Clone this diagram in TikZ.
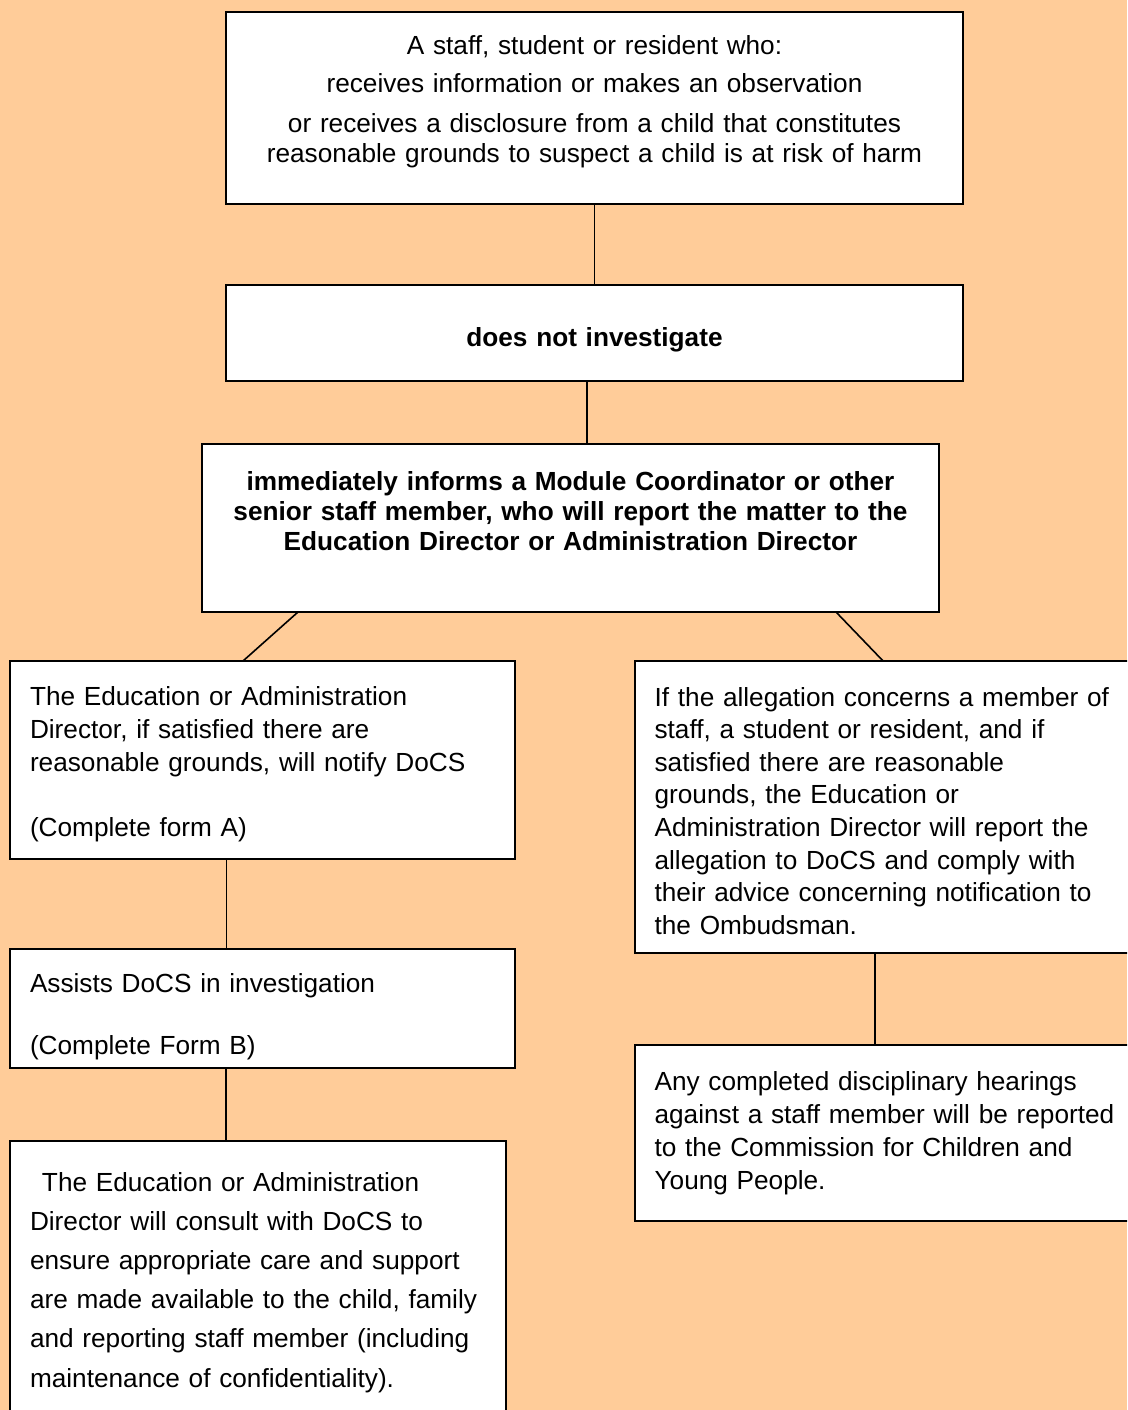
\documentclass[tikz,border=0pt]{standalone}
\usepackage{fontspec}
\setmainfont{Liberation Sans}
\definecolor{peach}{HTML}{FFCC99}

\begin{document}
\begin{tikzpicture}[x=1pt, y=-1pt,
    box/.style={draw=black, line width=2pt, fill=white, anchor=north west,
        inner xsep=20pt, inner ysep=0pt, outer sep=0pt},
    link/.style={draw=black, line width=1.6pt}]
    \clip (0,0) rectangle (1127,1410);
    \fill[peach] (0,0) rectangle (1127,1410);
    % Top row
    \node[box, align=center, text width=697pt, text height=43pt, text depth=149pt,
        font=\fontsize{26.2}{30}\selectfont] (Report) at (226,12)
        {A staff, student or resident who:\\[8pt]
         receives information or makes an observation\\[10pt]
         or receives a disclosure from a child that constitutes\\
         reasonable grounds to suspect a child is at risk of harm};
    \node[box, align=center, text width=697pt, text height=61pt, text depth=35pt,
        font=\fontsize{26.2}{30}\selectfont\bfseries] (NoInvestigate) at (226,285)
        {does not investigate};
    \node[box, align=center, text width=697pt, text height=46pt, text depth=122pt,
        font=\fontsize{26.2}{30}\selectfont\bfseries] (Inform) at (202,444)
        {immediately informs a Module Coordinator or other\\
         senior staff member, who will report the matter to the\\
         Education Director or Administration Director};
    % Left branch
    \node[box, align=left, text width=465pt, text height=44pt, text depth=154pt,
        font=\fontsize{26.2}{33}\selectfont] (Notify) at (10,661)
        {The Education or Administration\\
         Director, if satisfied there are\\
         reasonable grounds, will notify DoCS\\[32pt]
         (Complete form A)};
    \node[box, align=left, text width=465pt, text height=43pt, text depth=76pt,
        font=\fontsize{26.2}{32}\selectfont] (Assist) at (10,949)
        {Assists DoCS in investigation\\[30pt]
         (Complete Form B)};
    \node[box, align=left, text width=456pt, text height=50pt, text depth=260pt,
        font=\fontsize{26.2}{39.2}\selectfont] (Support) at (10,1141)
        {\hspace*{12pt}The Education or Administration\\
         Director will consult with DoCS to\\
         ensure appropriate care and support\\
         are made available to the child, family\\
         and reporting staff member (including\\
         maintenance of confidentiality).};
    % Right branch
    \node[box, align=left, text width=470pt, text height=45pt, text depth=247pt,
        font=\fontsize{26.2}{32.6}\selectfont] (Concern) at (634.6,661)
        {If the allegation concerns a member of\\
         staff, a student or resident, and if\\
         satisfied there are reasonable\\
         grounds, the Education or\\
         Administration Director will report the\\
         allegation to DoCS and comply with\\
         their advice concerning notification to\\
         the Ombudsman.};
    \node[box, align=left, text width=470pt, text height=45pt, text depth=131pt,
        font=\fontsize{26.2}{33.3}\selectfont] (Hearing) at (634.6,1045)
        {Any completed disciplinary hearings\\
         against a staff member will be reported\\
         to the Commission for Children and\\
         Young People.};
    % Connectors
    \draw[link] (Report.south) -- (NoInvestigate.north);
    \coordinate (DownInform) at ([xshift=-7.5pt]NoInvestigate.south);
    \draw[link] (DownInform) -- (DownInform |- Inform.north);
    \draw[link] ([xshift=96pt]Inform.south west) -- ([xshift=233pt]Notify.north west);
    \draw[link] ([xshift=-103pt]Inform.south east) -- ([xshift=248.5pt]Concern.north west);
    \coordinate (DownAssist) at ([xshift=216.5pt]Notify.south west);
    \draw[link] (DownAssist) -- (DownAssist |- Assist.north);
    \coordinate (DownSupport) at ([xshift=216pt]Assist.south west);
    \draw[link] (DownSupport) -- (DownSupport |- Support.north);
    \coordinate (DownHearing) at ([xshift=240.5pt]Concern.south west);
    \draw[link] (DownHearing) -- (DownHearing |- Hearing.north);
\end{tikzpicture}
\end{document}
